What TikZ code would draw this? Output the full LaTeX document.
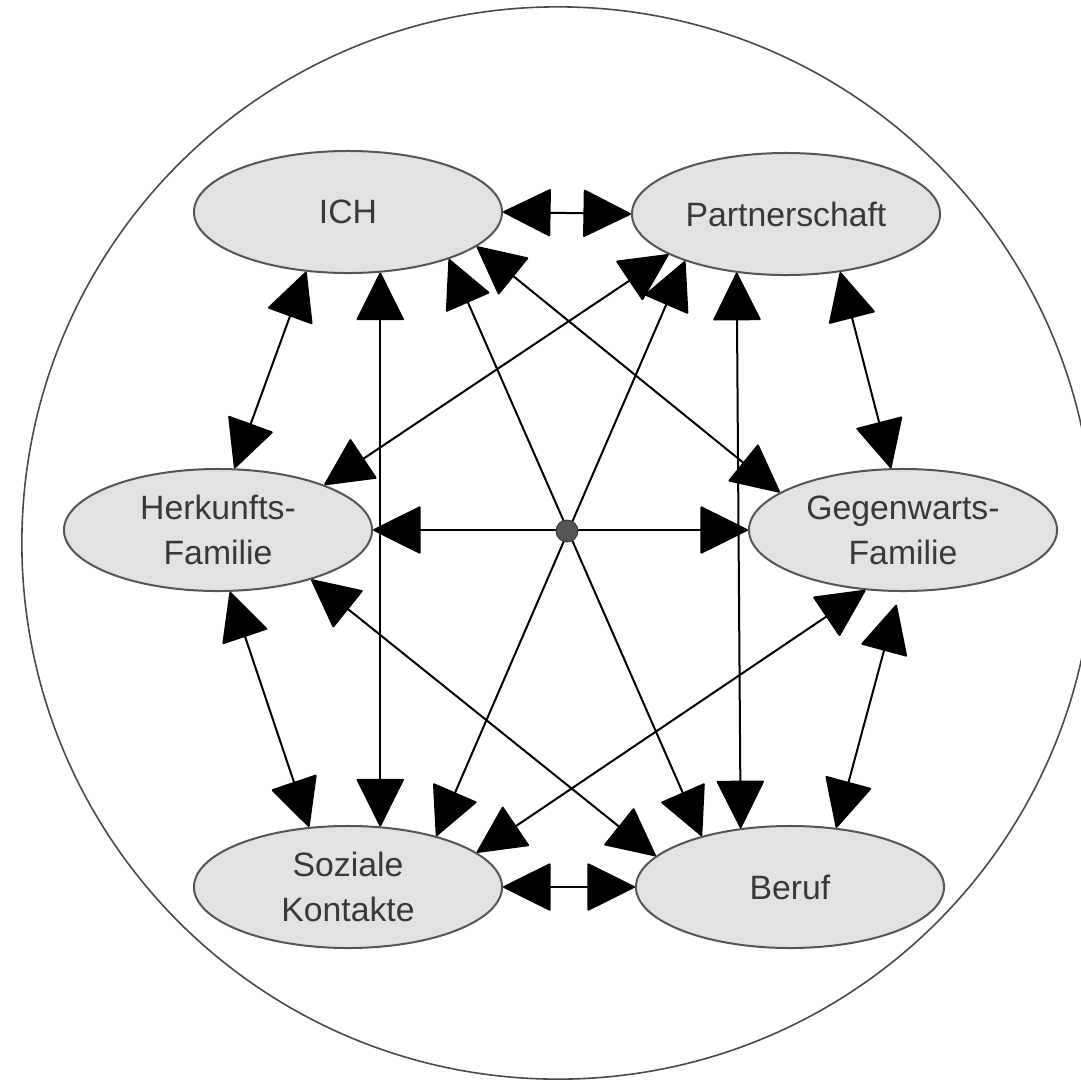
\documentclass[tikz,border=0pt]{standalone}
\usepackage{fontspec}
\setmainfont{Liberation Sans}
\usetikzlibrary{arrows.meta,shapes.geometric}
\definecolor{efill}{HTML}{E2E2E2}
\definecolor{edraw}{HTML}{555555}
\definecolor{etext}{HTML}{383838}
\definecolor{rim}{HTML}{4A4A4A}
\definecolor{hub}{HTML}{555555}
\begin{document}
\begin{tikzpicture}[x=0.025cm,y=-0.025cm,
  area/.style={ellipse, draw=edraw, line width=0.05cm, fill=efill,
    minimum width=7.7cm, minimum height=3.05cm, inner sep=0pt,
    text=etext, font=\fontsize{24}{32}\selectfont, align=center},
  bigtip/.tip={Triangle[length=1.22cm,width=1.2cm,round]},
  link/.style={line width=0.05cm, black, bigtip-bigtip}]
\clip (0,0) rectangle (1081,1081);
\fill[white] (0,0) rectangle (1081,1081);
\node[draw=rim, line width=0.04cm, circle, minimum size=26.8cm, inner sep=0pt] (rimc) at (558,543) {};

\node[area] (ich) at (348,212) {ICH};
\node[area] (part) at (786,214) {Partnerschaft};
\node[area] (herk) at (218,530) {Herkunfts-\\Familie};
\node[area] (gegen) at (903,530) {Gegenwarts-\\Familie};
\node[area] (sozi) at (348,887) {Soziale\\Kontakte};
\node[area] (beruf) at (790,887) {Beruf};

\draw[link] (ich.east) -- (part.west);
\draw[link] (sozi.east) -- (beruf.west);
\draw[link] (herk.east) -- (gegen.west);
\draw[link] (ich.235) -- (herk.75);
\draw[link] (ich.-62) -- (sozi.62);
\draw[link] (ich.-25) -- (beruf.150);
\draw[link] (ich.-15.5) -- (gegen.163);
\draw[link] (part.199) -- (herk.23.4);
\draw[link] (part.205) -- (sozi.30.4);
\draw[link] (part.230.4) -- (beruf.130.4);
\draw[link] (part.-47) -- (gegen.101);
\draw[link] (herk.281.6) -- (sozi.123.5);
\draw[link] (herk.-28.7) -- (beruf.167.8);
\draw[link] (gegen.238.2) -- (sozi.15.2);
\draw[link, shorten <=0.33cm] (gegen.267.8) -- (beruf.52.4);

\node[circle, fill=hub, draw=black!80, line width=0.02cm, minimum size=0.55cm, inner sep=0pt] (hubdot) at (567,531) {};
\end{tikzpicture}
\end{document}
